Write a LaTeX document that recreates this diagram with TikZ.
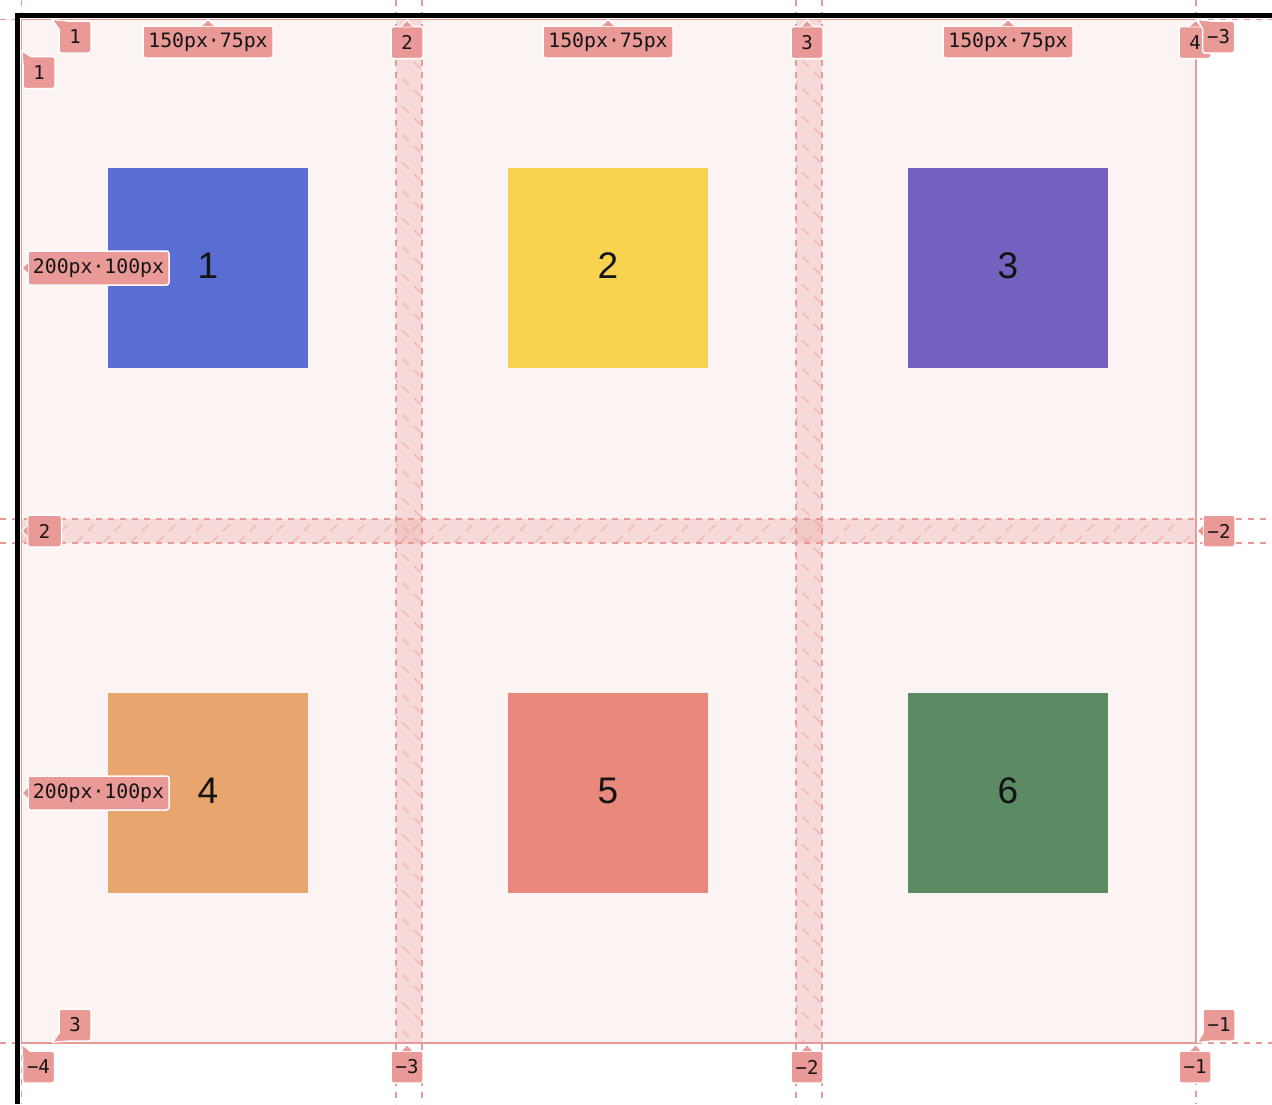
\documentclass[tikz,border=0pt]{standalone}
\usepackage{fontspec}
\newfontfamily\lblmono{DejaVu Sans Mono}
\newfontfamily\itemsans{Liberation Sans}
\definecolor{bgpink}{HTML}{FCF3F3}
\definecolor{linepink}{HTML}{E99A97}
\definecolor{lblpink}{HTML}{E99A97}
\definecolor{itemblue}{HTML}{5A6DD3}
\definecolor{itemyellow}{HTML}{F7D350}
\definecolor{itempurple}{HTML}{7561C0}
\definecolor{itemorange}{HTML}{E8A56E}
\definecolor{itemsalmon}{HTML}{E9897C}
\definecolor{itemgreen}{HTML}{5B8B63}
\definecolor{inkdark}{HTML}{141414}
\tikzset{
 gridline/.style={draw=linepink, line width=1.5pt, dash pattern=on 6pt off 6pt},
 hatchline/.style={draw=linepink, draw opacity=0.45, line width=1.5pt, dash pattern=on 9pt off 7pt},
 gapfill/.style={fill=linepink, fill opacity=0.27},
 item/.style={minimum width=200pt, minimum height=200pt, inner sep=0pt, text height=26.5pt, text depth=6pt, font=\itemsans\fontsize{37}{40}\selectfont, text=inkdark},
 numlbl/.style={fill=lblpink, draw=white, line width=1.5pt, rounded corners=2.5pt, inner sep=0pt, minimum width=32pt, minimum height=32pt, font=\lblmono\fontsize{19}{21}\selectfont, text=inkdark},
 sizelbl/.style={numlbl, minimum width=130pt, font=\lblmono\fontsize{19.8}{22}\selectfont},
 sizelblb/.style={sizelbl, minimum width=141pt, minimum height=34pt},
}
\newcommand\lbltail[3]{%
  \fill[lblpink] #1 -- #2 -- #3 -- cycle;
  \draw[white, line width=1.2pt, line join=round] #2 -- #1 -- #3;}
\begin{document}
\begin{tikzpicture}[x=1pt,y=-1pt]
\path[use as bounding box, fill=white] (0,0) rectangle (1272,1104);
% container
\fill[bgpink] (21.5,19.5) rectangle (1196,1043);
% gaps
\fill[gapfill] (396,19.5) rectangle (422,1043);
\fill[gapfill] (796,19.5) rectangle (822,1043);
\fill[gapfill] (21.5,519) rectangle (1196,543);
\begin{scope}
  \clip (396,19.5) rectangle (422,1043);
  \foreach \k in {-2,...,40} \draw[hatchline] (380,\k*28) -- ++(60,60);
\end{scope}
\begin{scope}
  \clip (796,19.5) rectangle (822,1043);
  \foreach \k in {-2,...,40} \draw[hatchline] (780,\k*28+10) -- ++(60,60);
\end{scope}
\begin{scope}
  \clip (21.5,519) rectangle (1196,543);
  \foreach \k in {0,...,46} \draw[hatchline] (\k*27,565) -- ++(55,-55);
\end{scope}
% dashed grid lines
\foreach \x in {396,422,796,822} \draw[gridline] (\x,0) -- (\x,1104);
\foreach \y in {519,543} \draw[gridline] (0,\y) -- (1272,\y);
\draw[gridline] (21.5,0) -- (21.5,19.5);
\draw[gridline] (21.5,1043) -- (21.5,1104);
\draw[gridline] (1196,0) -- (1196,19.5);
\draw[gridline] (1196,1043) -- (1196,1104);
\draw[gridline] (0,19.5) -- (21.5,19.5);
\draw[gridline] (1196,19.5) -- (1272,19.5);
\draw[gridline] (0,1043) -- (21.5,1043);
\draw[gridline] (1196,1043) -- (1272,1043);
% container outline
\draw[linepink, line width=1.5pt] (21.5,19.5) rectangle (1196,1043);
% items
\node[item, fill=itemblue]   (i1) at (208,268)  {1};
\node[item, fill=itemyellow] (i2) at (608,268)  {2};
\node[item, fill=itempurple] (i3) at (1008,268) {3};
\node[item, fill=itemorange] (i4) at (208,793)  {4};
\node[item, fill=itemsalmon] (i5) at (608,793)  {5};
\node[item, fill=itemgreen]  (i6) at (1008,793) {6};
% black border
\draw[black, line width=4.5pt, line join=miter] (17.5,1104) -- (17.5,15.5) -- (1272,15.5);
% size labels
\node[sizelbl] (w1) at (208,42) {150px·75px};
\lbltail{(208,19.5)}{(201,26)}{(215,26)}
\node[sizelbl] (w2) at (608,42) {150px·75px};
\lbltail{(608,19.5)}{(601,26)}{(615,26)}
\node[sizelbl] (w3) at (1008,42) {150px·75px};
\lbltail{(1008,19.5)}{(1001,26)}{(1015,26)}
\node[sizelblb] (h1) at (98.5,268) {200px·100px};
\lbltail{(22,268)}{(28,262)}{(28,274)}
\node[sizelblb] (h2) at (98.5,793) {200px·100px};
\lbltail{(22,793)}{(28,787)}{(28,799)}
% line number labels: columns, top
\node[numlbl] (c1) at (75,37) {1};
\lbltail{(52,19.5)}{(59,29)}{(67,21)}
\node[numlbl] (c2) at (407,42.5) {2};
\lbltail{(407,20)}{(401,26.5)}{(413,26.5)}
\node[numlbl] (c3) at (807,42.5) {3};
\lbltail{(807,20)}{(801,26.5)}{(813,26.5)}
\node[numlbl] (c4) at (1195,42.5) {4};
\lbltail{(1196,20)}{(1189,26.5)}{(1201,26.5)}
% rows, left
\node[numlbl] (r1) at (39,72.5) {1};
\lbltail{(22,51)}{(23,65)}{(31,56.5)}
\node[numlbl, minimum width=34pt] (r2) at (44.5,531) {2};
\lbltail{(22,531)}{(27.5,525)}{(27.5,537)}
\node[numlbl] (r3) at (75,1025) {3};
\lbltail{(52.5,1042.5)}{(59,1033)}{(67,1041)}
% rows, right (negative)
\node[numlbl] (rn1) at (1218.5,37) {−3};
\lbltail{(1197.5,19.5)}{(1202.5,29)}{(1210,21)}
\node[numlbl] (rn2) at (1219,531) {−2};
\lbltail{(1197,531)}{(1203,525)}{(1203,537)}
\node[numlbl] (rn3) at (1219,1025) {−1};
\lbltail{(1197.5,1042.5)}{(1203,1033)}{(1211,1041)}
% columns, bottom (negative)
\node[numlbl] (cn4) at (38.5,1067) {−4};
\lbltail{(22,1044.5)}{(22.5,1059)}{(30,1051)}
\node[numlbl] (cn3) at (407,1067) {−3};
\lbltail{(407,1044.5)}{(401,1051)}{(413,1051)}
\node[numlbl] (cn2) at (807,1067) {−2};
\lbltail{(807,1044.5)}{(801,1051)}{(813,1051)}
\node[numlbl] (cn1) at (1195,1067) {−1};
\lbltail{(1196,1044.5)}{(1189,1051)}{(1201,1051)}
\end{tikzpicture}
\end{document}
